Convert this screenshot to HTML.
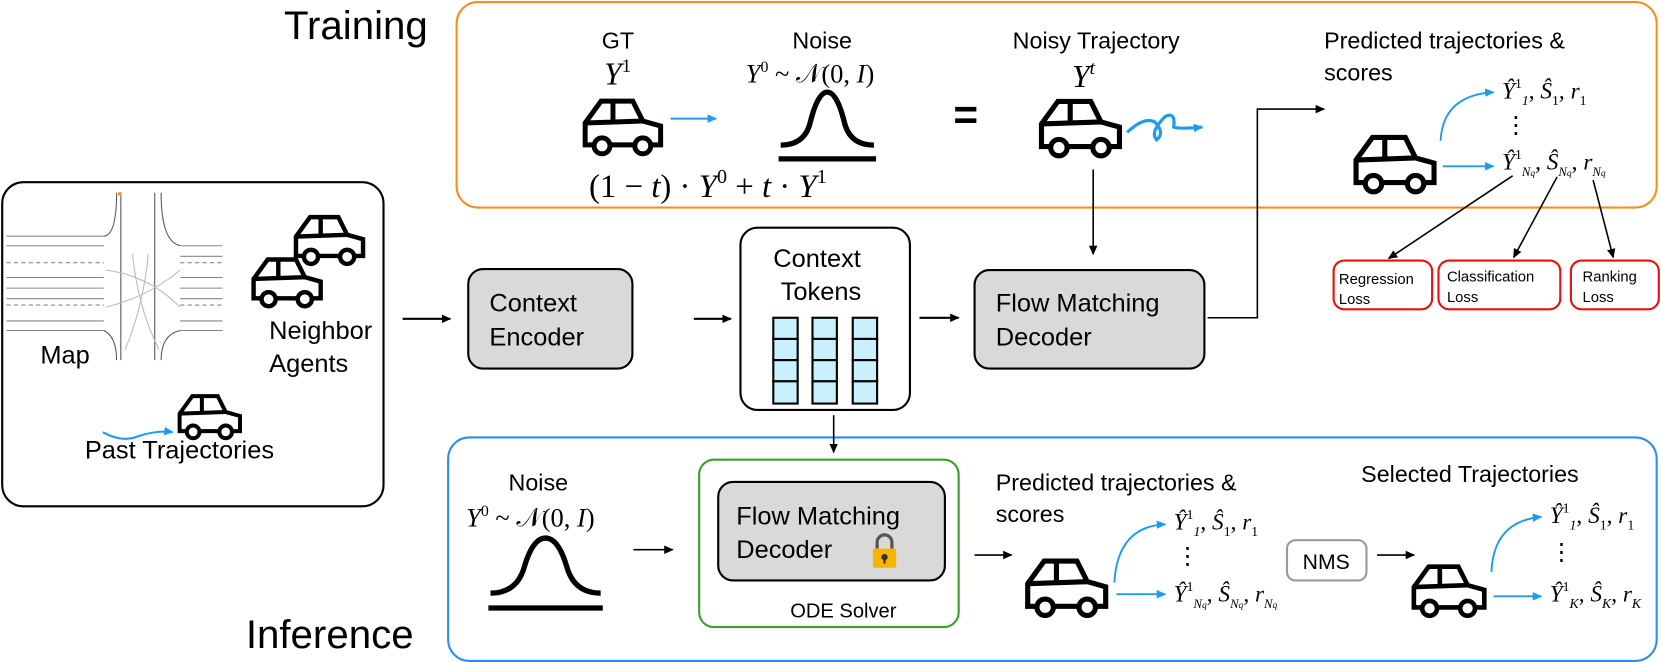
<!DOCTYPE html>
<html><head><style>
body{margin:0;background:#fff;}
svg{display:block;font-family:"Liberation Sans",sans-serif;}
.m{font-family:"Liberation Serif",serif;font-style:italic;}
</style></head><body>
<svg width="1661" height="662" viewBox="0 0 1568 625" xmlns="http://www.w3.org/2000/svg">
<defs>
<marker id="ab" markerWidth="10" markerHeight="10" refX="8" refY="5" orient="auto" markerUnits="userSpaceOnUse"><path d="M0,1 L9,5 L0,9 Z" fill="#000"/></marker>
<marker id="ablue" markerWidth="10" markerHeight="10" refX="8" refY="5" orient="auto" markerUnits="userSpaceOnUse"><path d="M0,1 L9,5 L0,9 Z" fill="#1e9bf0"/></marker>
<symbol id="car" viewBox="0 0 84 64">
<path d="M4,30 L20,8 L52,8 L62,28 L80,33 L80,52 L4,52 Z" fill="#fff" stroke="#000" stroke-width="5" stroke-linejoin="miter"/>
<path d="M4,30 L62,28 M32,8 L32,29" stroke="#000" stroke-width="5" fill="none"/>
<circle cx="21" cy="53" r="8" fill="#fff" stroke="#000" stroke-width="5"/>
<circle cx="62" cy="53" r="8" fill="#fff" stroke="#000" stroke-width="5"/>
</symbol>
</defs>

<rect x="431" y="2" width="1133" height="194" rx="20" fill="none" stroke="#fb8c1c" stroke-width="2"/>
<rect x="423" y="413" width="1141" height="211" rx="20" fill="none" stroke="#2a8ef0" stroke-width="2"/>
<rect x="2" y="172" width="360" height="306" rx="20" fill="none" stroke="#000" stroke-width="2"/>

<text x="268" y="37" font-size="38">Training</text>
<text x="232" y="612" font-size="38">Inference</text>

<g stroke="#888" stroke-width="1" fill="none">
<path d="M6,223 H98 M6,232 H98 M6,262 H98 M6,272 H98 M6,282 H98 M6,303 H98 M6,312 H98 M170,232 H210 M170,242 H210 M170,262 H210 M170,272 H210 M170,282 H210 M170,303 H210 M170,312 H210"/>
<path d="M6,248 H98 M6,288 H98 M170,248 H210 M170,288 H210" stroke-dasharray="4,3"/>
<path d="M114,182 V340 M146,182 V340 M110,182 Q110,222 98,223 M152,182 Q152,228 170,232 M110,340 Q110,318 98,312 M152,340 Q152,316 170,312" stroke="#555"/>
<path d="M125,240 Q130,290 150,330 M140,240 Q135,290 118,330 M100,255 Q140,260 170,290 M100,290 Q140,280 170,255" stroke="#bbb"/>
</g>
<circle cx="113" cy="183" r="2" fill="#f0a040"/>
<text x="38" y="343" font-size="24">Map</text>
<use href="#car" x="276" y="198" width="70" height="54"/>
<use href="#car" x="236" y="238" width="70" height="54"/>
<text x="254" y="320" font-size="24">Neighbor</text>
<text x="254" y="351" font-size="24">Agents</text>
<path d="M97,408 Q115,418 130,412 Q148,406 163,408" stroke="#1e9bf0" stroke-width="2" fill="none" marker-end="url(#ablue)"/>
<use href="#car" x="166" y="368" width="64" height="48"/>
<text x="80" y="433" font-size="24">Past Trajectories</text>

<line x1="380" y1="301" x2="425" y2="301" stroke="#000" stroke-width="2" marker-end="url(#ab)"/>
<rect x="442" y="254" width="155" height="94" rx="14" fill="#d9d9d9" stroke="#000" stroke-width="2"/>
<text x="462" y="294" font-size="24">Context</text>
<text x="462" y="326" font-size="24">Encoder</text>
<line x1="655" y1="301" x2="690" y2="301" stroke="#000" stroke-width="2" marker-end="url(#ab)"/>
<rect x="699" y="215" width="160" height="172" rx="16" fill="#fff" stroke="#000" stroke-width="2"/>
<text x="730" y="252" font-size="24">Context</text>
<text x="737" y="283" font-size="24">Tokens</text>
<g fill="#c9f1fd" stroke="#000" stroke-width="2">
<rect x="730" y="300" width="23" height="20"/><rect x="730" y="320" width="23" height="20"/><rect x="730" y="340" width="23" height="20"/><rect x="730" y="360" width="23" height="21"/>
<rect x="767" y="300" width="23" height="20"/><rect x="767" y="320" width="23" height="20"/><rect x="767" y="340" width="23" height="20"/><rect x="767" y="360" width="23" height="21"/>
<rect x="805" y="300" width="23" height="20"/><rect x="805" y="320" width="23" height="20"/><rect x="805" y="340" width="23" height="20"/><rect x="805" y="360" width="23" height="21"/>
</g>
<line x1="868" y1="300" x2="905" y2="300" stroke="#000" stroke-width="2" marker-end="url(#ab)"/>
<rect x="920" y="255" width="217" height="93" rx="14" fill="#d9d9d9" stroke="#000" stroke-width="2"/>
<text x="940" y="294" font-size="24">Flow Matching</text>
<text x="940" y="326" font-size="24">Decoder</text>
<path d="M1140,300 H1187 V103 H1250" stroke="#000" stroke-width="1.5" fill="none" marker-end="url(#ab)"/>
<line x1="1032" y1="160" x2="1032" y2="240" stroke="#000" stroke-width="1.5" marker-end="url(#ab)"/>
<line x1="787" y1="392" x2="787" y2="427" stroke="#000" stroke-width="1.5" marker-end="url(#ab)"/>

<text x="568" y="46" font-size="22">GT</text>
<text x="583" y="80" font-size="30" class="m" text-anchor="middle">Y<tspan font-size="18" font-style="normal" dy="-12">1</tspan></text>
<use href="#car" x="548" y="88" width="80" height="60"/>
<line x1="633" y1="112" x2="676" y2="112" stroke="#1e9bf0" stroke-width="1.8" marker-end="url(#ablue)"/>
<text x="748" y="46" font-size="22">Noise</text>
<text x="704" y="78" font-size="25" class="m">Y<tspan font-size="15" font-style="normal" dy="-10">0</tspan><tspan dy="10" font-style="normal"> ~ 𝒩(0, </tspan>I<tspan font-style="normal">)</tspan></text>
<path d="M737,137 Q760,137 765,115 Q772,87 781,87 Q790,87 797,115 Q802,137 825,137" stroke="#000" stroke-width="5" fill="none"/>
<line x1="735" y1="150" x2="827" y2="150" stroke="#000" stroke-width="5"/>
<text x="556" y="186" font-size="31" font-family="Liberation Serif,serif">(1 − <tspan font-style="italic">t</tspan>) · <tspan font-style="italic">Y</tspan><tspan font-size="19" dy="-13">0</tspan><tspan dy="13"> + </tspan><tspan font-style="italic">t</tspan> · <tspan font-style="italic">Y</tspan><tspan font-size="19" dy="-13">1</tspan></text>
<text x="900" y="122" font-size="40" font-weight="bold">=</text>
<text x="956" y="46" font-size="22">Noisy Trajectory</text>
<text x="1012" y="82" font-size="30" class="m">Y<tspan font-size="18" dy="-12">t</tspan></text>
<use href="#car" x="978" y="88" width="84" height="62"/>
<path d="M1064,125 Q1080,110 1090,115 Q1100,125 1092,132 Q1085,125 1100,110 Q1110,105 1108,120 Q1115,122 1135,120" stroke="#1e9bf0" stroke-width="3" fill="none" marker-end="url(#ablue)"/>

<text x="1250" y="46" font-size="22">Predicted trajectories &amp;</text>
<text x="1250" y="76" font-size="22">scores</text>
<use href="#car" x="1275" y="122" width="84" height="62"/>
<path d="M1360,133 Q1362,90 1410,87" stroke="#1e9bf0" stroke-width="1.8" fill="none" marker-end="url(#ablue)"/>
<line x1="1362" y1="157" x2="1410" y2="157" stroke="#1e9bf0" stroke-width="1.8" marker-end="url(#ablue)"/>
<text x="1418" y="93" font-size="22" class="m">Ŷ<tspan font-size="13" dy="-10" font-style="normal">1</tspan><tspan font-size="13" dy="16">1</tspan><tspan dy="-6" font-style="normal">, </tspan>Ŝ<tspan font-size="13" dy="6" font-style="normal">1</tspan><tspan dy="-6" font-style="normal">, </tspan>r<tspan font-size="13" dy="6" font-style="normal">1</tspan></text>
<text x="1420" y="125" font-size="22">⋮</text>
<text x="1418" y="160" font-size="22" class="m">Ŷ<tspan font-size="13" dy="-10" font-style="normal">1</tspan><tspan font-size="12" dy="16">N<tspan font-size="9">q</tspan></tspan><tspan dy="-6" font-style="normal">, </tspan>Ŝ<tspan font-size="12" dy="6">N<tspan font-size="9">q</tspan></tspan><tspan dy="-6" font-style="normal">, </tspan>r<tspan font-size="12" dy="6">N<tspan font-size="9">q</tspan></tspan></text>
<line x1="1428" y1="166" x2="1311" y2="244" stroke="#000" stroke-width="1.5" marker-end="url(#ab)"/>
<line x1="1470" y1="167" x2="1429" y2="243" stroke="#000" stroke-width="1.5" marker-end="url(#ab)"/>
<line x1="1504" y1="170" x2="1523" y2="243" stroke="#000" stroke-width="1.5" marker-end="url(#ab)"/>
<g fill="#fff" stroke="#e81010" stroke-width="2">
<rect x="1259" y="246" width="93" height="46" rx="10"/>
<rect x="1358" y="246" width="115" height="46" rx="10"/>
<rect x="1483" y="246" width="83" height="46" rx="10"/>
</g>
<text x="1264" y="268" font-size="14">Regression</text><text x="1264" y="287" font-size="14">Loss</text>
<text x="1366" y="266" font-size="14">Classification</text><text x="1366" y="285" font-size="14">Loss</text>
<text x="1494" y="266" font-size="14">Ranking</text><text x="1494" y="285" font-size="14">Loss</text>

<text x="480" y="463" font-size="22">Noise</text>
<text x="440" y="497" font-size="25" class="m">Y<tspan font-size="15" font-style="normal" dy="-10">0</tspan><tspan dy="10" font-style="normal"> ~ 𝒩(0, </tspan>I<tspan font-style="normal">)</tspan></text>
<path d="M463,560 Q488,560 495,535 Q503,508 515,508 Q527,508 535,535 Q542,560 567,560" stroke="#000" stroke-width="5" fill="none"/>
<line x1="461" y1="574" x2="569" y2="574" stroke="#000" stroke-width="5"/>
<line x1="598" y1="519" x2="635" y2="519" stroke="#000" stroke-width="1.5" marker-end="url(#ab)"/>
<rect x="660" y="434" width="245" height="158" rx="14" fill="none" stroke="#3aa02a" stroke-width="2"/>
<rect x="678" y="455" width="214" height="93" rx="14" fill="#d9d9d9" stroke="#000" stroke-width="2"/>
<text x="695" y="495" font-size="24">Flow Matching</text>
<text x="695" y="527" font-size="24">Decoder</text>
<g transform="translate(824,506)">
<path d="M4,12 V6 A7,7 0 0 1 18,6 V12" stroke="#555" stroke-width="3" fill="none"/>
<rect x="0" y="12" width="22" height="18" rx="2" fill="#f7b500"/>
<circle cx="11" cy="20" r="3" fill="#333"/><rect x="10" y="20" width="2" height="6" fill="#333"/>
</g>
<text x="746" y="583" font-size="19">ODE Solver</text>
<line x1="920" y1="524" x2="955" y2="524" stroke="#000" stroke-width="1.5" marker-end="url(#ab)"/>
<text x="940" y="463" font-size="22">Predicted trajectories &amp;</text>
<text x="940" y="493" font-size="22">scores</text>
<use href="#car" x="965" y="522" width="84" height="62"/>
<path d="M1052,550 Q1055,497 1100,495" stroke="#1e9bf0" stroke-width="1.8" fill="none" marker-end="url(#ablue)"/>
<line x1="1054" y1="561" x2="1100" y2="561" stroke="#1e9bf0" stroke-width="1.8" marker-end="url(#ablue)"/>
<text x="1108" y="500" font-size="22" class="m">Ŷ<tspan font-size="13" dy="-10" font-style="normal">1</tspan><tspan font-size="13" dy="16">1</tspan><tspan dy="-6" font-style="normal">, </tspan>Ŝ<tspan font-size="13" dy="6" font-style="normal">1</tspan><tspan dy="-6" font-style="normal">, </tspan>r<tspan font-size="13" dy="6" font-style="normal">1</tspan></text>
<text x="1110" y="532" font-size="22">⋮</text>
<text x="1108" y="568" font-size="22" class="m">Ŷ<tspan font-size="13" dy="-10" font-style="normal">1</tspan><tspan font-size="12" dy="16">N<tspan font-size="9">q</tspan></tspan><tspan dy="-6" font-style="normal">, </tspan>Ŝ<tspan font-size="12" dy="6">N<tspan font-size="9">q</tspan></tspan><tspan dy="-6" font-style="normal">, </tspan>r<tspan font-size="12" dy="6">N<tspan font-size="9">q</tspan></tspan></text>
<rect x="1215" y="510" width="75" height="38" rx="8" fill="#fff" stroke="#999" stroke-width="2"/>
<text x="1252" y="537" font-size="20" text-anchor="middle">NMS</text>
<line x1="1300" y1="524" x2="1335" y2="524" stroke="#000" stroke-width="1.5" marker-end="url(#ab)"/>
<text x="1285" y="455" font-size="22">Selected Trajectories</text>
<use href="#car" x="1330" y="528" width="76" height="56"/>
<path d="M1408,540 Q1410,492 1455,488" stroke="#1e9bf0" stroke-width="1.8" fill="none" marker-end="url(#ablue)"/>
<line x1="1410" y1="563" x2="1455" y2="563" stroke="#1e9bf0" stroke-width="1.8" marker-end="url(#ablue)"/>
<text x="1463" y="494" font-size="22" class="m">Ŷ<tspan font-size="13" dy="-10" font-style="normal">1</tspan><tspan font-size="13" dy="16">1</tspan><tspan dy="-6" font-style="normal">, </tspan>Ŝ<tspan font-size="13" dy="6" font-style="normal">1</tspan><tspan dy="-6" font-style="normal">, </tspan>r<tspan font-size="13" dy="6" font-style="normal">1</tspan></text>
<text x="1463" y="528" font-size="22">⋮</text>
<text x="1463" y="568" font-size="22" class="m">Ŷ<tspan font-size="13" dy="-10" font-style="normal">1</tspan><tspan font-size="13" dy="16">K</tspan><tspan dy="-6" font-style="normal">, </tspan>Ŝ<tspan font-size="13" dy="6">K</tspan><tspan dy="-6" font-style="normal">, </tspan>r<tspan font-size="13" dy="6">K</tspan></text>
</svg>
</body></html>
